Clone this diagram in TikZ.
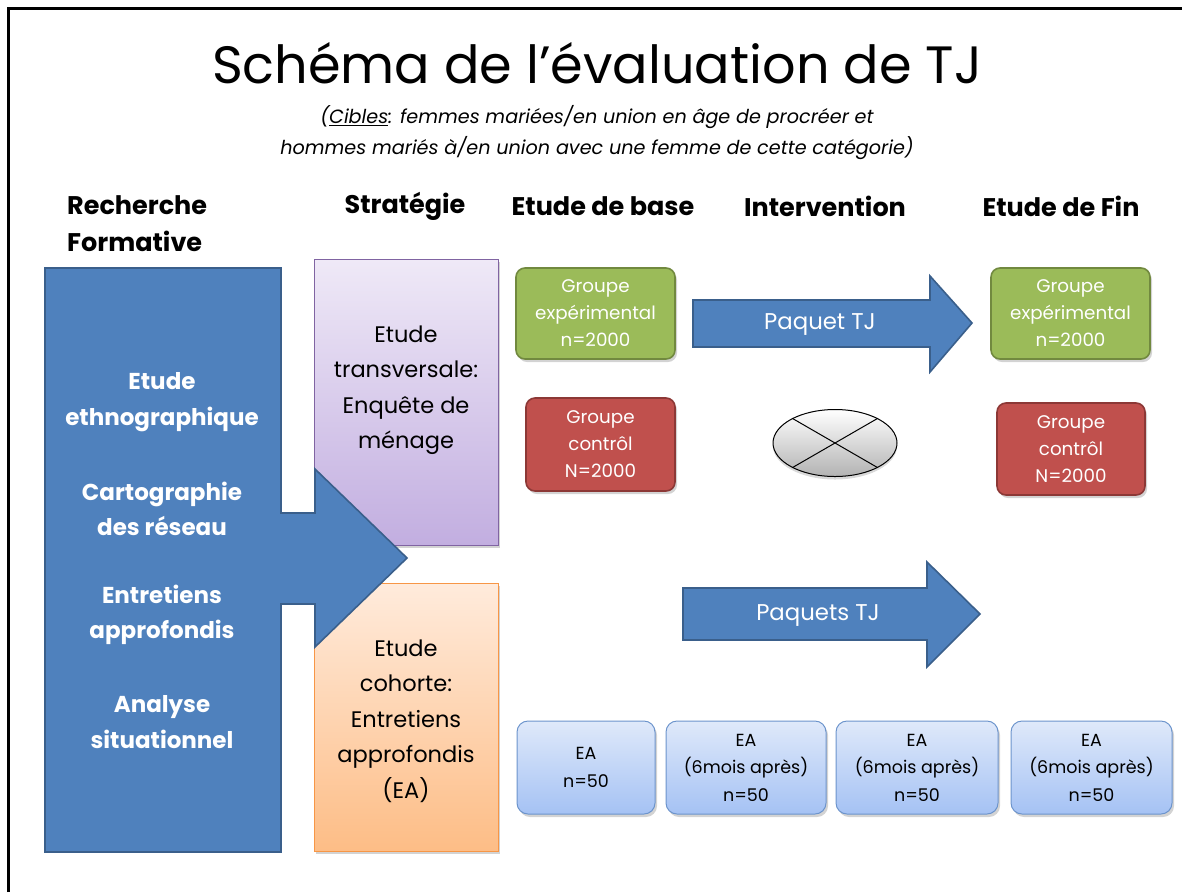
\documentclass[tikz,border=0pt]{standalone}
\usepackage{fontspec}
\setmainfont{Poppins}
\usetikzlibrary{positioning,shapes.geometric,shadows}
\definecolor{tjblue}{HTML}{4F81BD}
\definecolor{tjblueline}{HTML}{3A5F8B}
\definecolor{grpgreen}{HTML}{9BBB59}
\definecolor{grpgreenline}{HTML}{71893F}
\definecolor{grpred}{HTML}{C0504D}
\definecolor{grpredline}{HTML}{8C3836}
\definecolor{lilatop}{HTML}{EFE9F7}
\definecolor{lilabot}{HTML}{C2AEE0}
\definecolor{lilaline}{HTML}{8064A2}
\definecolor{orantop}{HTML}{FFEBDC}
\definecolor{oranbot}{HTML}{FDBD86}
\definecolor{oranline}{HTML}{F79646}
\definecolor{eatop}{HTML}{DFE9FA}
\definecolor{eabot}{HTML}{A5C2F4}
\definecolor{ealine}{HTML}{6C94CC}

\begin{document}
\begin{tikzpicture}[
    x=1pt, y=-1pt,
    every node/.style={align=center, inner sep=0pt},
    header/.style={font=\bfseries\fontsize{25.5}{37}\selectfont},
    softshadow/.style={drop shadow={opacity=0.35, shadow xshift=2pt, shadow yshift=-3pt}},
    grpbox/.style={draw, rounded corners=9pt, line width=1.6pt, minimum height=91pt,
        text=white, font=\fontsize{18.3}{27}\selectfont, softshadow},
    stratbox/.style={draw, line width=1pt, minimum width=184pt, softshadow},
    stratext/.style={font=\fontsize{22.5}{35.5}\selectfont},
    eabox/.style={draw=ealine, rounded corners=11pt, line width=1pt, top color=eatop,
        bottom color=eabot, minimum height=93pt, font=\fontsize{17.5}{27.5}\selectfont, softshadow},
    formtext/.style={text=white, font=\bfseries\fontsize{23}{35.5}\selectfont},
    bigarrow/.style={fill=tjblue, draw=tjblueline, line width=1.6pt, line join=miter},
    arrowtext/.style={text=white, font=\fontsize{22.8}{25}\selectfont}
]
\useasboundingbox (0,0) rectangle (1182,892);

% Frame
\draw[line width=3pt] (8,892) -- (8,8) -- (1182,8);

% Title
\node (title) at (597,63) {\fontsize{52.5}{58}\selectfont Schéma de l’évaluation de TJ};
\node[font=\itshape\fontsize{19.2}{31}\selectfont] (cibles) at (597,133)
    {(\underline{Cibles}: femmes mariées/en union en âge de procréer et\\
     hommes mariés à/en union avec une femme de cette catégorie)};

% Headers
\node[header, anchor=west, align=left] (hform) at (67,224) {Recherche\\Formative};
\node[header] (hstrat) at (405,206) {Stratégie};
\node[header] (hbase) at (603,206) {Etude de base};
\node[header] (hinter) at (825,206) {Intervention};
\node[header] (hfin) at (1061,206) {Etude de Fin};

% Strategie
\node[stratbox, draw=lilaline, top color=lilatop, bottom color=lilabot, minimum height=286pt] (transv) at (406,402) {};
\node[stratext] (transvtxt) at ([yshift=12pt]transv.center) {Etude\\transversale:\\Enquête de\\ménage};
\node[stratbox, draw=oranline, top color=orantop, bottom color=oranbot, minimum height=268pt] (cohorte) at (406,717) {};
\node[stratext] (cohortetxt) at ([yshift=-4pt]cohorte.center) {Etude\\cohorte:\\Entretiens\\approfondis\\(EA)};

% Recherche formative
\draw[bigarrow] (45,268) -- (281,268) -- (281,513) -- (315,513) -- (315,469) -- (407,558)
    -- (315,647) -- (315,604) -- (281,604) -- (281,852) -- (45,852) -- cycle;
\node[formtext] (ethno) at (162,402) {Etude\\ethnographique};
\node[formtext] (carto) at (162,509) {Cartographie\\des réseau};
\node[formtext] (entret) at (162,615) {Entretiens\\approfondis};
\node[formtext] (analyse) at (162,722) {Analyse\\situationnel};

% Groupes
\node[grpbox, fill=grpgreen, draw=grpgreenline, minimum width=159pt] (expbase) at (595.5,313.5) {Groupe\\expérimental\\n=2000};
\node[grpbox, fill=grpgreen, draw=grpgreenline, minimum width=159pt] (expfin) at (1070.5,313.5) {Groupe\\expérimental\\n=2000};
\node[grpbox, fill=grpred, draw=grpredline, minimum width=149pt, minimum height=93pt] (ctrlbase) at (600.5,444.5) {Groupe\\contrôl\\N=2000};
\node[grpbox, fill=grpred, draw=grpredline, minimum width=148pt, minimum height=92pt] (ctrlfin) at (1071,449) {Groupe\\contrôl\\N=2000};

% Interventions
\draw[bigarrow] (693,300) -- (930,300) -- (930,276) -- (972,323) -- (930,372) -- (930,347) -- (693,347) -- cycle;
\node[arrowtext] (paquet) at (820,325) {Paquet TJ};
\node[ellipse, draw, line width=1pt, minimum width=124pt, minimum height=67pt, top color=white, bottom color=gray!60,
    drop shadow={opacity=0.3, shadow xshift=0pt, shadow yshift=-3pt}] (nul) at (835,443) {};
\draw[line width=1pt] (nul.150) -- (nul.-30);
\draw[line width=1pt] (nul.30) -- (nul.-150);
\draw[bigarrow] (683,588) -- (927,588) -- (927,562) -- (980,614) -- (927,667) -- (927,640) -- (683,640) -- cycle;
\node[arrowtext] (paquets) at (818,616) {Paquets TJ};

% Entretiens approfondis
\node[eabox, minimum width=138pt] (ea1) at (586,767.5) {EA\\n=50};
\node[eabox, minimum width=160pt] (ea2) at (746,767.5) {EA\\(6mois après)\\n=50};
\node[eabox, minimum width=162pt] (ea3) at (917,767.5) {EA\\(6mois après)\\n=50};
\node[eabox, minimum width=161pt] (ea4) at (1091.5,767.5) {EA\\(6mois après)\\n=50};

\end{tikzpicture}
\end{document}
